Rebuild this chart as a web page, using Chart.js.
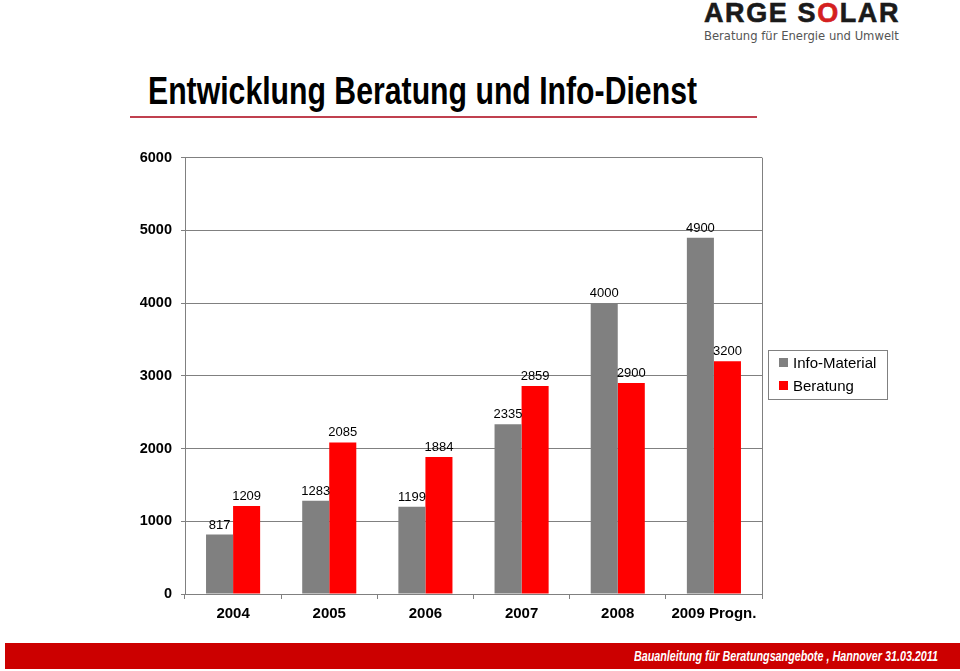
<!DOCTYPE html>
<html>
<head>
<meta charset="utf-8">
<script src="https://cdn.jsdelivr.net/npm/chart.js@4"></script>
<style>
  html, body { margin: 0; padding: 0; background: #fff; }
  body { width: 960px; height: 671px; position: relative; overflow: hidden; font-family: "Liberation Sans", Arial, sans-serif; }
  #logo { position: absolute; left: 704px; top: -2px; width: 200px; }
  #logo .name { font: bold 27px "Liberation Sans", Arial, sans-serif; color: #1a1a1a; letter-spacing: 1.6px; line-height: 30px; -webkit-text-stroke: 0.6px #1a1a1a; }
  #logo .name span { color: #d42020; -webkit-text-stroke: 0.6px #d42020; }
  #logo .sub { font: 11.6px "DejaVu Sans", sans-serif; color: #555; margin-top: 1px; white-space: nowrap; }
  #title { position: absolute; left: 148px; top: 72px; font: bold 38px "Liberation Sans", Arial, sans-serif; line-height: 38px; color: #000; white-space: nowrap; transform-origin: 0 0; }
  #rule { position: absolute; left: 130px; top: 116px; width: 627px; height: 2px; background: #c0404f; }
  #wrap { position: absolute; left: 130px; top: 140px; width: 640px; height: 490px; }
  #legend { position: absolute; left: 768px; top: 350px; width: 118px; height: 48px; border: 1px solid #808080; font: 15px "Liberation Sans", Arial, sans-serif; }
  #legend div { position: absolute; left: 10px; white-space: nowrap; }
  #legend i { display: inline-block; width: 9px; height: 9px; margin-right: 5px; vertical-align: 1px; }
  #footer { position: absolute; left: 5px; top: 643px; width: 955px; height: 26px; background: #cc0000; }
  #footer span { position: absolute; left: 629px; top: 5px; font: italic bold 14px "Liberation Sans", Arial, sans-serif; line-height: 16px; color: #fff; white-space: nowrap; transform-origin: 0 0; }
</style>
</head>
<body>
<div id="logo"><div class="name">ARGE S<span>O</span>LAR</div><div class="sub">Beratung für Energie und Umwelt</div></div>
<div id="title">Entwicklung Beratung und Info-Dienst</div>
<div id="rule"></div>
<div id="wrap"><canvas id="chart"></canvas></div>
<div id="legend"></div>
<div id="footer"><span id="fusstext">Bauanleitung für Beratungsangebote , Hannover 31.03.2011</span></div>
<script>
const jahre = ['2004', '2005', '2006', '2007', '2008', '2009 Progn.'];
const infoMaterial = [817, 1283, 1199, 2335, 4000, 4900];
const beratung = [1209, 2085, 1884, 2859, 2900, 3200];
const yTicks = [0, 1000, 2000, 3000, 4000, 5000, 6000];
const serien = [
  { label: 'Info-Material', data: infoMaterial, color: '#808080' },
  { label: 'Beratung', data: beratung, color: '#ff0000' }
];

// schmale Schrift nachbilden: Text auf Zielbreite stauchen
function stauchen(id, breite) {
  const el = document.getElementById(id);
  el.style.transform = `scaleX(${breite / el.getBoundingClientRect().width})`;
}
stauchen('title', 549);
stauchen('fusstext', 304);

// Werte über den Balken
const wertLabels = {
  id: 'wertLabels',
  afterDatasetsDraw(chart) {
    const ctx = chart.ctx;
    ctx.save();
    ctx.font = '13px "Liberation Sans", Arial, sans-serif';
    ctx.fillStyle = '#000';
    ctx.textAlign = 'center';
    ctx.textBaseline = 'bottom';
    chart.data.datasets.forEach((ds, i) => {
      chart.getDatasetMeta(i).data.forEach((bar, j) => {
        ctx.fillText(ds.data[j], bar.x, bar.y - 3);
      });
    });
    ctx.restore();
  }
};

// rechte Rahmenlinie
const rahmen = {
  id: 'rahmen',
  beforeDatasetsDraw(chart) {
    const a = chart.chartArea, ctx = chart.ctx;
    ctx.save();
    ctx.strokeStyle = '#808080';
    ctx.lineWidth = 1;
    ctx.beginPath();
    ctx.moveTo(Math.round(a.right) + 0.5, a.top);
    ctx.lineTo(Math.round(a.right) + 0.5, a.bottom);
    ctx.stroke();
    ctx.restore();
  }
};

new Chart(document.getElementById('chart'), {
  type: 'bar',
  data: {
    labels: jahre,
    datasets: serien.map(s => ({ label: s.label, data: s.data, backgroundColor: s.color, barPercentage: 1, categoryPercentage: 0.5625 }))
  },
  options: {
    responsive: true,
    maintainAspectRatio: false,
    animation: false,
    layout: { padding: { top: 17, right: 8, left: 0, bottom: 0 } },
    plugins: { legend: { display: false }, tooltip: { enabled: false } },
    scales: {
      x: {
        afterFit: s => { s.height = 36; },
        grid: { offset: true, drawOnChartArea: false, tickLength: 5, color: '#808080' },
        border: { color: '#808080' },
        ticks: { color: '#000', font: { size: 15, weight: 'bold', family: '"Liberation Sans", Arial, sans-serif' }, padding: 6 }
      },
      y: {
        min: 0, max: 6000,
        afterFit: s => { s.width = 55; },
        afterBuildTicks: s => { s.ticks = yTicks.map(v => ({ value: v })); },
        grid: { color: '#808080', tickLength: 4 },
        border: { color: '#808080' },
        ticks: { color: '#000', font: { size: 14.5, weight: 'bold', family: '"Liberation Sans", Arial, sans-serif' }, padding: 9, callback: v => String(v) }
      }
    }
  },
  plugins: [wertLabels, rahmen]
});

document.getElementById('legend').innerHTML = serien.map((s, i) =>
  `<div style="top:${3 + i * 23}px"><i style="background:${s.color}"></i>${s.label}</div>`).join('');
</script>
</body>
</html>
